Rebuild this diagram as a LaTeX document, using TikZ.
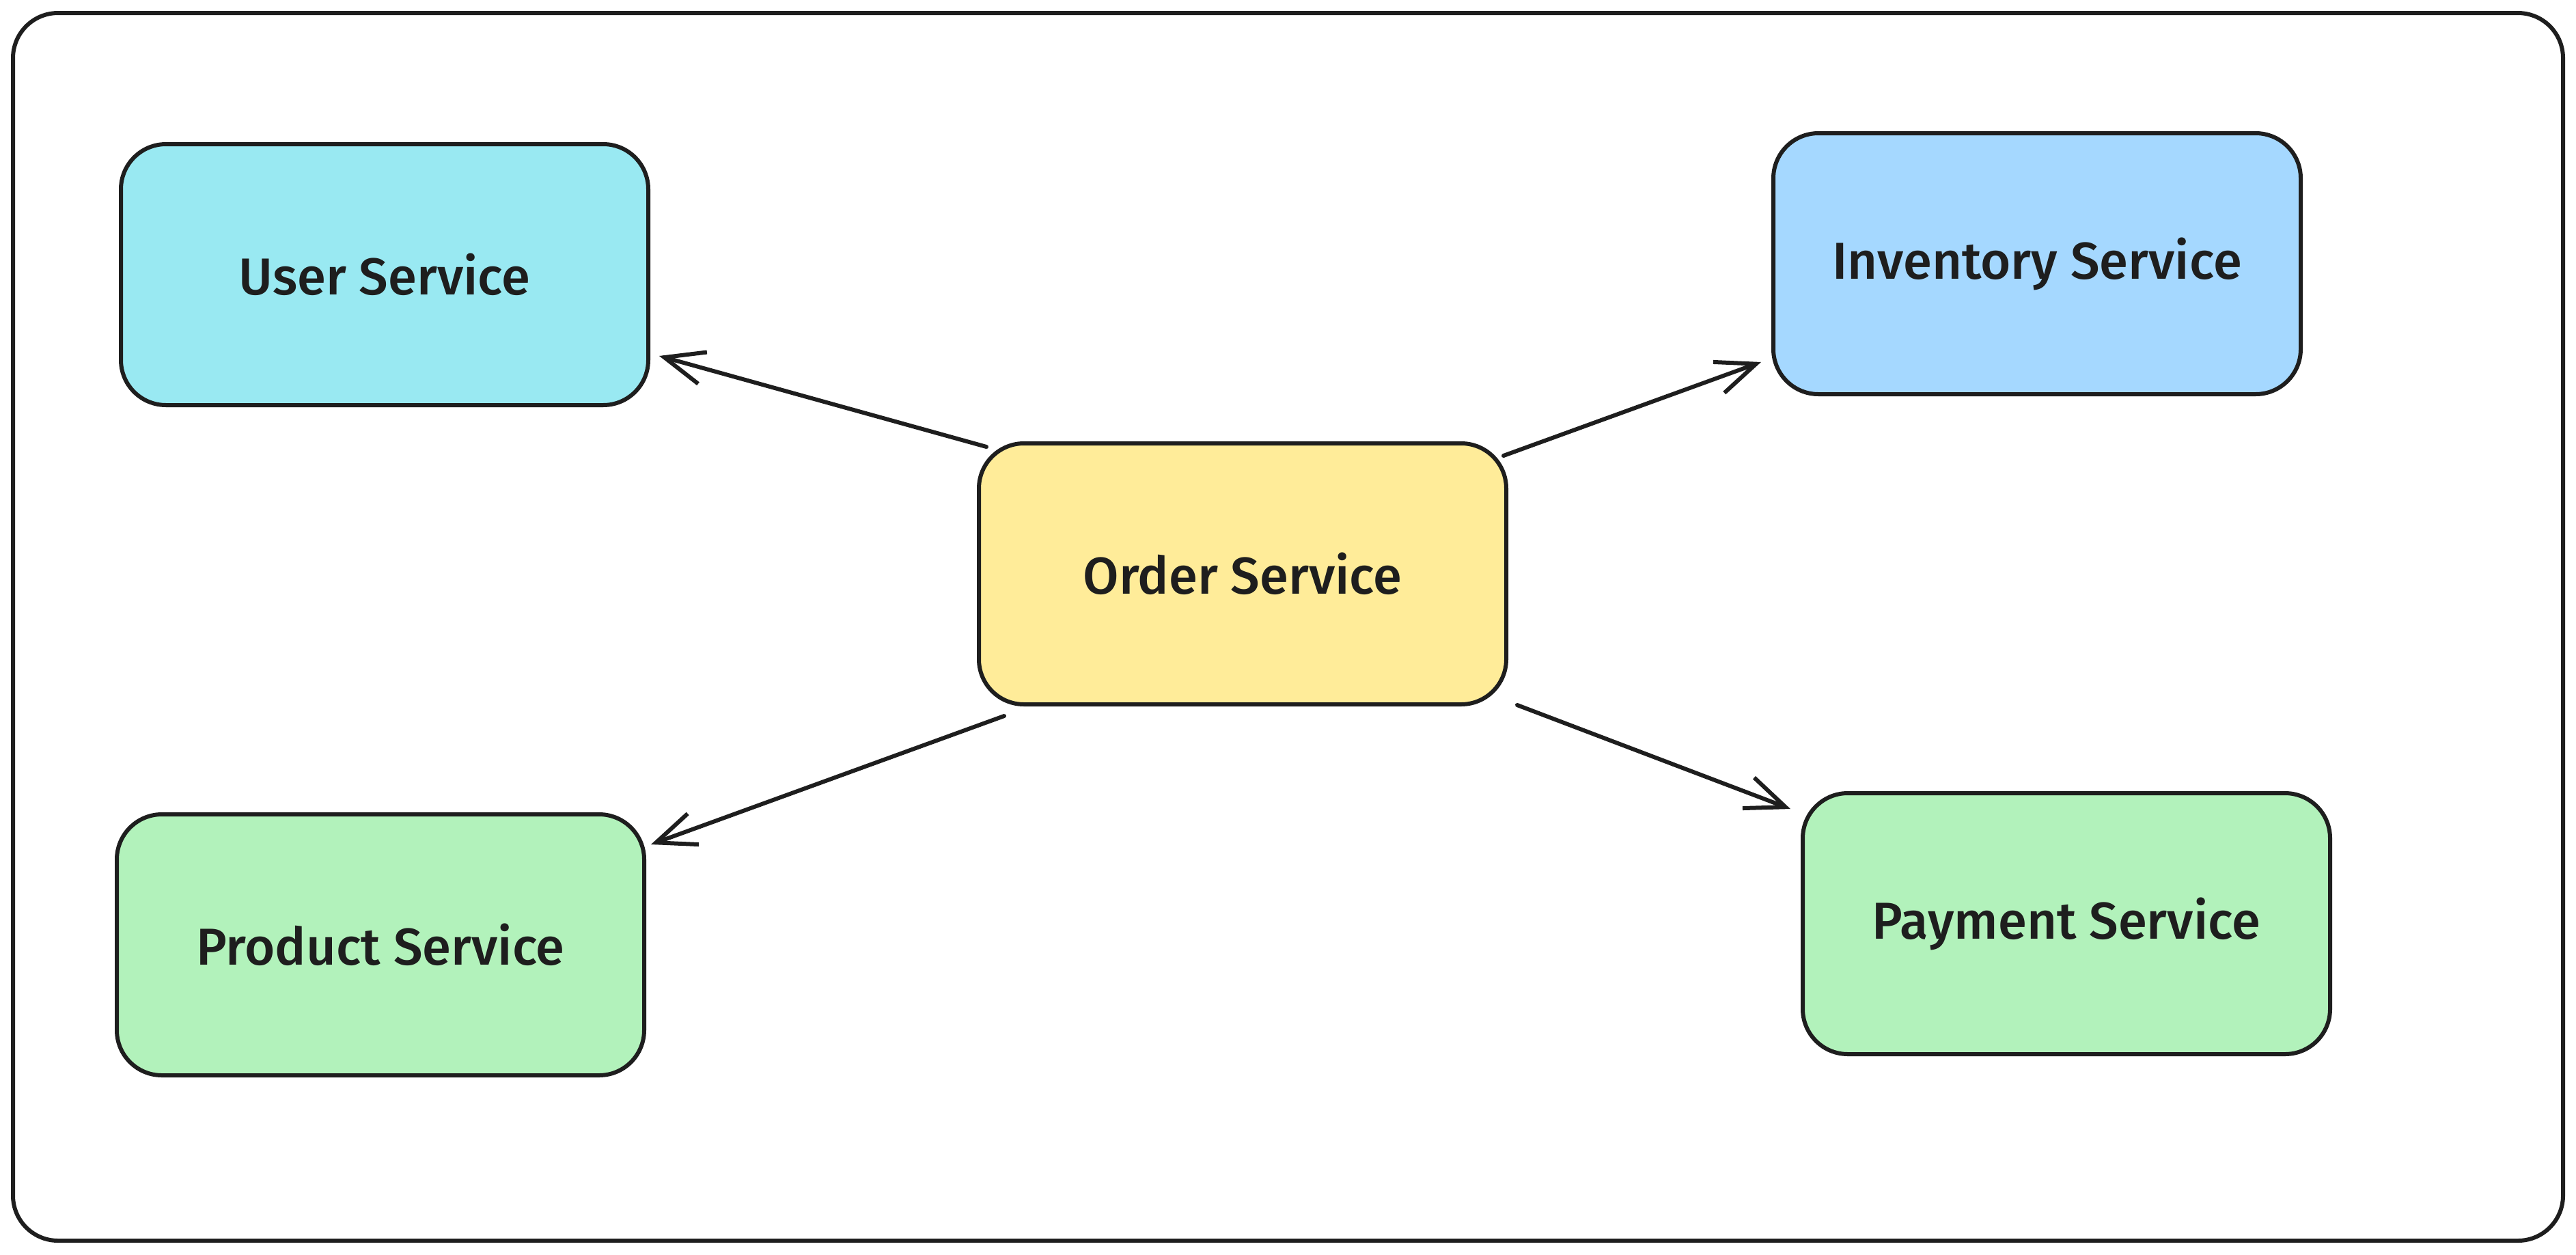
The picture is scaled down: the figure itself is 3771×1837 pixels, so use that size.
\documentclass[tikz,border=0pt]{standalone}
\usepackage{fontspec}
\setmainfont{Fira Sans}[UprightFont={* Medium}]
\usetikzlibrary{arrows.meta}
\definecolor{ink}{HTML}{1E1E1E}
\definecolor{cyanfill}{HTML}{99E9F2}
\definecolor{bluefill}{HTML}{A5D8FF}
\definecolor{yellowfill}{HTML}{FFEC99}
\definecolor{greenfill}{HTML}{B2F2BB}
\tikzset{
  svc/.style={draw=ink, line width=3pt, rounded corners=33pt,
    minimum width=386pt, minimum height=191pt, inner sep=0pt,
    font=\fontsize{38}{44}\selectfont, text=ink},
  arr/.style={draw=ink, line width=3pt, line cap=round,
    -{Straight Barb[length=29pt,width=24pt,line width=3pt]}},
  frame/.style={draw=ink, line width=3pt, rounded corners=33pt}
}
\begin{document}
\begin{tikzpicture}[x=0.5pt,y=-0.5pt]
\useasboundingbox[fill=white] (0,0) rectangle (3771,1837);
\draw[frame] (19,19) rectangle (3752,1816);
\node[svc, fill=cyanfill] (user) at (563,402) {User Service};
\node[svc, fill=bluefill] (inv) at (2982,386) {Inventory Service};
\node[svc, fill=yellowfill] (order) at (1819,840) {Order Service};
\node[svc, fill=greenfill] (prod) at (557,1383) {Product Service};
\node[svc, fill=greenfill] (pay) at (3025,1352) {Payment Service};
\draw[arr] ([shift={(14,8)}]order.north west) -- ([shift={(13,-75)}]user.south east);
\draw[arr] ([shift={(-7,21)}]order.north east) -- ([shift={(-15,-50)}]inv.south west);
\draw[arr] ([shift={(40,14)}]order.south west) -- ([shift={(7,47)}]prod.north east);
\draw[arr] ([shift={(13,-2)}]order.south east) -- ([shift={(-15,26)}]pay.north west);
\end{tikzpicture}
\end{document}
